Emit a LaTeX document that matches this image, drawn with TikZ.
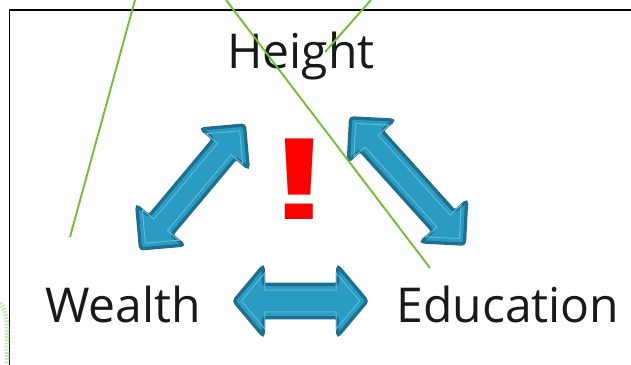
\documentclass[tikz,border=0pt]{standalone}
\usepackage{fontspec}
\setmainfont{Open Sans}
\newfontfamily\bangfont{Liberation Sans}
\usetikzlibrary{shapes.arrows}

\definecolor{arrowfill}{RGB}{42,155,194}
\definecolor{arrowedge}{RGB}{28,112,142}
\definecolor{arrowline}{RGB}{95,188,218}
\definecolor{penline}{RGB}{112,190,50}
\definecolor{dotgreen}{RGB}{200,228,180}

\tikzset{
  label text/.style={font=\fontsize{41}{41}\selectfont, text=black!90, anchor=base, inner sep=0pt},
  twoway/.style={double arrow, draw=arrowedge, fill=arrowfill, line width=2.8pt,
    rounded corners=2.5pt, inner xsep=0pt, double arrow head indent=0pt},
  twoway inner/.style={double arrow, draw=arrowline, line width=0.8pt,
    inner xsep=0pt, double arrow head indent=0pt},
  pen/.style={draw=penline, line width=1.6pt},
}

\begin{document}
\begin{tikzpicture}[x=0.03cm, y=-0.03cm]
    \useasboundingbox (0, 0) rectangle (631, 365);
    % frame
    \draw[line width=1.6pt] (9.5, 365) -- (9.5, 10) -- (631, 10);
    % faint mark at the left edge
    \draw[dotgreen, line width=4pt, dash pattern=on 1.5pt off 1.2pt]
        (0, 303) .. controls (5, 308) and (7, 316) .. (7, 330) -- (7, 365);

    % labels
    \node[label text] (height) at (301, 68) {Height};
    \node[label text] (wealth) at (123, 322) {Wealth};
    \node[label text] (education) at (508, 322) {Education};
    \node[text=red, inner sep=0pt, font=\bangfont\bfseries\fontsize{100}{100}\selectfont]
        (bang) at (300, 179) {\scalebox{1.7}[1]{!}};

    % arrows between the labels
    \node[twoway, rotate=50, minimum height=4.85cm, inner ysep=0.39cm,
        double arrow head extend=0.48cm] (wh) at (192.5, 187) {};
    \node[twoway inner, rotate=50, minimum height=4.4cm, inner ysep=0.25cm,
        double arrow head extend=0.45cm] at (wh.center) {};
    \node[twoway, rotate=-48, minimum height=5.1cm, inner ysep=0.39cm,
        double arrow head extend=0.48cm] (he) at (407.5, 181) {};
    \node[twoway inner, rotate=-48, minimum height=4.65cm, inner ysep=0.25cm,
        double arrow head extend=0.45cm] at (he.center) {};
    \node[twoway, minimum height=4.0cm, inner ysep=0.45cm,
        double arrow head extend=0.55cm, double arrow tip angle=100] (we) at (300.5, 301) {};
    \node[twoway inner, minimum height=3.55cm, inner ysep=0.31cm,
        double arrow head extend=0.52cm, double arrow tip angle=100] at (we.center) {};

    % pen strokes
    \coordinate (penA0) at (135, 0);
    \coordinate (penA1) at (70, 237);
    \coordinate (penB0) at (226, 0);
    \coordinate (penB1) at (430, 268);
    \coordinate (penC0) at (371, 0);
    \coordinate (penC1) at (325, 52);
    \draw[pen] (penA0) -- (penA1);
    \draw[pen] (penB0) -- (penB1);
    \draw[pen] (penC0) -- (penC1);
\end{tikzpicture}
\end{document}
